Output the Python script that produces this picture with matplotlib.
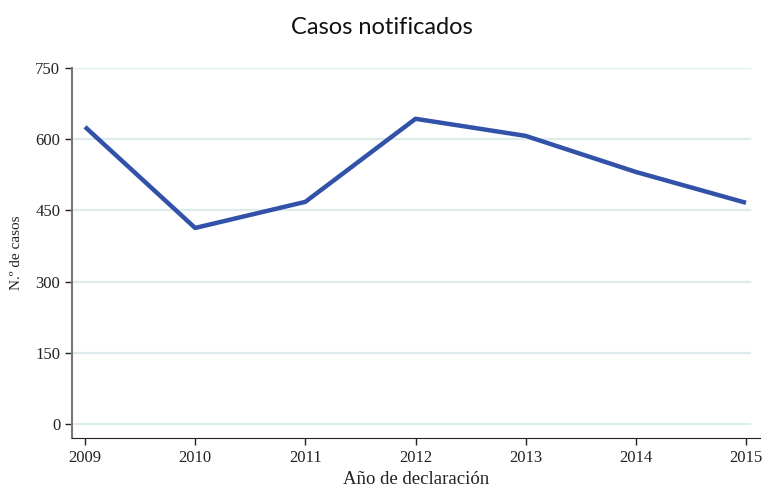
import matplotlib
matplotlib.use("Agg")
import matplotlib.pyplot as plt

# --- datos ---
anios = [2009, 2010, 2011, 2012, 2013, 2014, 2015]
casos = [626, 413, 468, 643, 607, 531, 466]
y_ticks = [0, 150, 300, 450, 600, 750]

fig = plt.figure(figsize=(7.64, 4.92), dpi=100)
ax = fig.add_axes([72 / 764, 1 - 438 / 492, 688 / 764, 370 / 492])

serif = ['Liberation Serif', 'DejaVu Serif']

# rejilla horizontal
for v in y_ticks:
    ax.axhline(v, color='#dcecec', lw=1.6, zorder=0, xmax=0.985)

ax.plot(anios, casos, color='#3152a8', lw=3.2, solid_capstyle='butt', zorder=3)

ax.set_xlim(2008.882, 2015.127)
ax.set_ylim(-29.5, 750)
ax.set_xticks(anios)
ax.set_yticks(y_ticks)
ax.tick_params(labelsize=12, length=5, width=1, colors='#222222')
for lab in ax.get_xticklabels() + ax.get_yticklabels():
    lab.set_family(serif)

ax.spines['top'].set_visible(False)
ax.spines['right'].set_visible(False)
ax.spines['left'].set_color('#777777')
ax.spines['left'].set_linewidth(1.5)
ax.spines['bottom'].set_color('#222222')

ax.set_xlabel('Año de declaración', fontsize=13.5, family=serif, color='#222222', labelpad=4)
ax.set_ylabel('N.º de casos', fontsize=11, family=serif, color='#222222', labelpad=9)

fig.text(0.5, 1 - 27 / 492, 'Casos notificados', ha='center', va='center',
         fontsize=17, family=['Lato', 'DejaVu Sans'], color='#111111')

fig.savefig('out.png', dpi=100)
